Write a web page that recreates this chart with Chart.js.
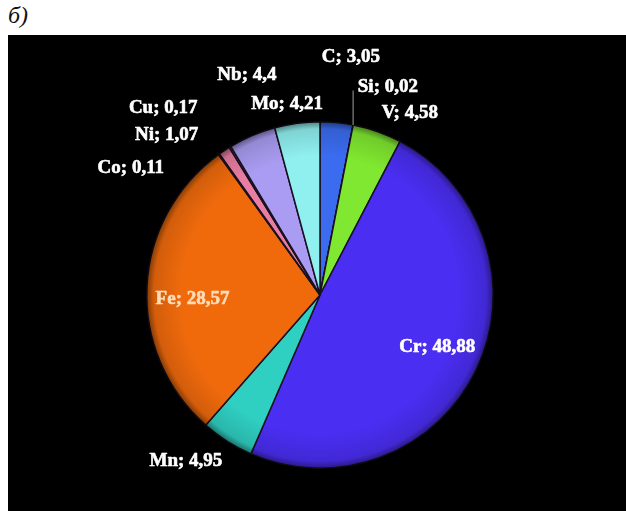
<!DOCTYPE html>
<html>
<head>
<meta charset="utf-8">
<script src="https://cdn.jsdelivr.net/npm/chart.js@4"></script>
<style>
  html, body { margin: 0; padding: 0; background: #fff; }
  #wrap { position: relative; width: 626px; height: 511px; overflow: hidden; }
  #panel { position: absolute; left: 8px; top: 35px; right: 0; bottom: 0; background: #000; }
  #tag { position: absolute; left: 8px; top: 2px; font: italic 24px "Liberation Serif", "DejaVu Serif", serif; color: #111; }
  #c { position: absolute; left: 0; top: 0; }
</style>
</head>
<body>
<div id="wrap">
  <div id="panel"></div>
  <div id="tag">б)</div>
  <canvas id="c" width="626" height="511"></canvas>
</div>
<script>
// Element composition, %
const elements = ['C', 'Si', 'V', 'Cr', 'Mn', 'Fe', 'Co', 'Ni', 'Cu', 'Nb', 'Mo'];
const shares = [3.05, 0.02, 4.58, 48.88, 4.95, 28.57, 0.11, 1.07, 0.17, 4.4, 4.21];
const labelTexts = ['C; 3,05', 'Si; 0,02', 'V; 4,58', 'Cr; 48,88', 'Mn; 4,95', 'Fe; 28,57',
                    'Co; 0,11', 'Ni; 1,07', 'Cu; 0,17', 'Nb; 4,4', 'Mo; 4,21'];

const sliceColors = ['#3b6cf0', '#2a7a40', '#80e830', '#4a2ef2', '#2fd0c2', '#f06a0c',
                     '#c0402a', '#e87ea2', '#b05070', '#a99cf2', '#90f0f0'];
// label placement: [angle shift from slice middle (deg), distance as fraction of radius]
const labelPlace = [[1.9, 1.385], [7.1, 1.26], [7, 1.17], [-1.7, 0.74], [6.6, 1.23], [-4.6, 0.736],
                    [-20.4, 1.316], [-10.2, 1.28], [-8.7, 1.408], [4.7, 1.338], [-2.2, 1.12]];
const labelColors = ['#fff', '#fff', '#fff', '#fff', '#fff', '#ffdcb8', '#fff', '#fff', '#fff', '#fff', '#fff'];

const rimShade = {
  id: 'rimShade',
  afterDatasetsDraw(chart) {
    const arc = chart.getDatasetMeta(0).data[0];
    const { x, y, outerRadius: r } = arc.getProps(['x', 'y', 'outerRadius'], true);
    const ctx = chart.ctx;
    ctx.save();
    const g = ctx.createRadialGradient(x, y, r * 0.8, x, y, r + 2);
    g.addColorStop(0, 'rgba(0,0,0,0)');
    g.addColorStop(0.75, 'rgba(0,0,0,0.12)');
    g.addColorStop(1, 'rgba(0,0,0,0.55)');
    ctx.fillStyle = g;
    ctx.beginPath();
    ctx.arc(x, y, r + 2, 0, Math.PI * 2);
    ctx.fill();
    ctx.restore();
  }
};

const sliceLabels = {
  id: 'sliceLabels',
  afterDraw(chart) {
    const ctx = chart.ctx;
    const meta = chart.getDatasetMeta(0);
    ctx.save();
    ctx.font = 'bold 19px "Liberation Serif", "DejaVu Serif", serif';
    ctx.textAlign = 'center';
    ctx.textBaseline = 'middle';
    ctx.lineJoin = 'round';
    meta.data.forEach((a, i) => {
      const p = a.getProps(['x', 'y', 'startAngle', 'endAngle', 'outerRadius'], true);
      const mid = (p.startAngle + p.endAngle) / 2 + labelPlace[i][0] * Math.PI / 180;
      const d = p.outerRadius * labelPlace[i][1];
      const lx = p.x + Math.cos(mid) * d;
      const ly = p.y + Math.sin(mid) * d;
      if (elements[i] === 'Si') {
        // leader line from the rim up to the label
        const m = (p.startAngle + p.endAngle) / 2;
        const ex = p.x + Math.cos(m) * p.outerRadius;
        const ey = p.y + Math.sin(m) * p.outerRadius;
        ctx.strokeStyle = 'rgba(200,200,200,0.8)';
        ctx.lineWidth = 1;
        ctx.beginPath();
        ctx.moveTo(ex, ey);
        ctx.lineTo(ex, ly + 3);
        ctx.stroke();
      }
      ctx.fillStyle = labelColors[i];
      ctx.strokeStyle = labelColors[i];
      ctx.lineWidth = 0.6;
      ctx.fillText(labelTexts[i], lx, ly);
      ctx.strokeText(labelTexts[i], lx, ly);
    });
    ctx.restore();
  }
};

new Chart(document.getElementById('c'), {
  type: 'pie',
  data: {
    labels: elements,
    datasets: [{
      data: shares,
      backgroundColor: sliceColors,
      borderColor: '#1a1020',
      borderWidth: 1.5
    }]
  },
  options: {
    responsive: false,
    animation: false,
    layout: { padding: { top: 121, bottom: 42, left: 100, right: 86 } },
    plugins: { legend: { display: false }, tooltip: { enabled: false } }
  },
  plugins: [rimShade, sliceLabels]
});
</script>
</body>
</html>
